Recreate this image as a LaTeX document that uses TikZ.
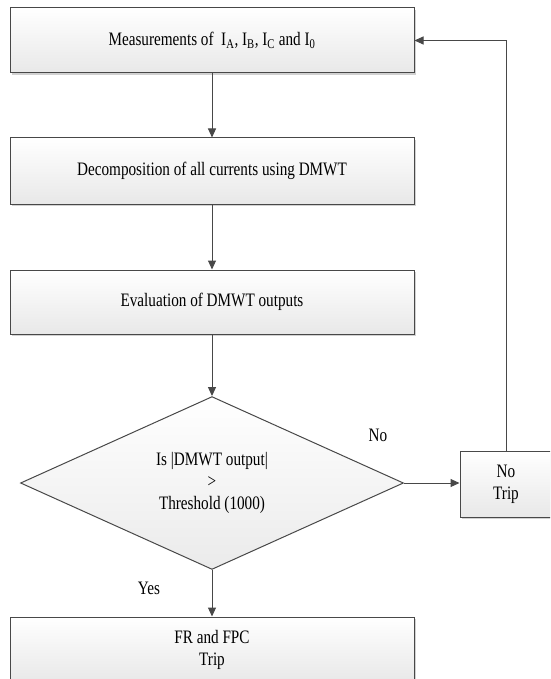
\documentclass[tikz,border=0pt]{standalone}
\usepackage{fontspec}
\setmainfont{Liberation Serif}[FakeStretch=0.8]
\usetikzlibrary{arrows.meta,shapes.geometric,shadows}
\definecolor{lin}{HTML}{484848}
\begin{document}
\begin{tikzpicture}[x=1pt,y=-1pt,
  every node/.style={font=\fontsize{19}{22}\selectfont, text=black},
  procbox/.style={draw=lin, line width=1pt, rectangle, inner sep=0pt, align=center,
    top color=white, bottom color=black!9,
    drop shadow={shadow xshift=2pt, shadow yshift=-2pt, fill=black!18, opacity=1}},
  decbox/.style={draw=lin, line width=1pt, diamond, inner sep=0pt, align=center,
    top color=white, bottom color=black!8},
  conn/.style={draw=lin, line width=1pt, -{Triangle[length=9pt,width=8pt]}},
  lbl/.style={inner sep=0pt}]
\useasboundingbox (0,0) rectangle (550,679);
\clip (0,0) rectangle (550,679);
\node[procbox, minimum width=404pt, minimum height=65pt] (m) at (212,40.5)
  {Measurements of \ I\textsubscript{A}, I\textsubscript{B}, I\textsubscript{C} and I\textsubscript{0}};
\node[procbox, minimum width=404pt, minimum height=66pt] (d) at (212,171)
  {Decomposition of all currents using DMWT};
\node[procbox, minimum width=404pt, minimum height=64pt] (e) at (212,302)
  {Evaluation of DMWT outputs};
\node[decbox, minimum width=383pt, minimum height=172pt] (q) at (212,483)
  {Is |DMWT output|\\>\\Threshold (1000)};
\node[procbox, minimum width=92pt, minimum height=66pt] (nt) at (506,484)
  {No\\Trip};
\node[procbox, minimum width=404pt, minimum height=65pt] (fr) at (212,649.5)
  {FR and FPC\\Trip};
\node[lbl] (no) at (378,435) {No};
\node[lbl] (yes) at (149,588) {Yes};
\draw[conn] (m) -- (d);
\draw[conn] (d) -- (e);
\draw[conn] (e) -- (q);
\draw[conn] (q) -- (fr);
\draw[conn] (q.east) -- (nt.west |- q.east);
\draw[conn] (nt.north) |- (m.east);
\end{tikzpicture}
\end{document}
